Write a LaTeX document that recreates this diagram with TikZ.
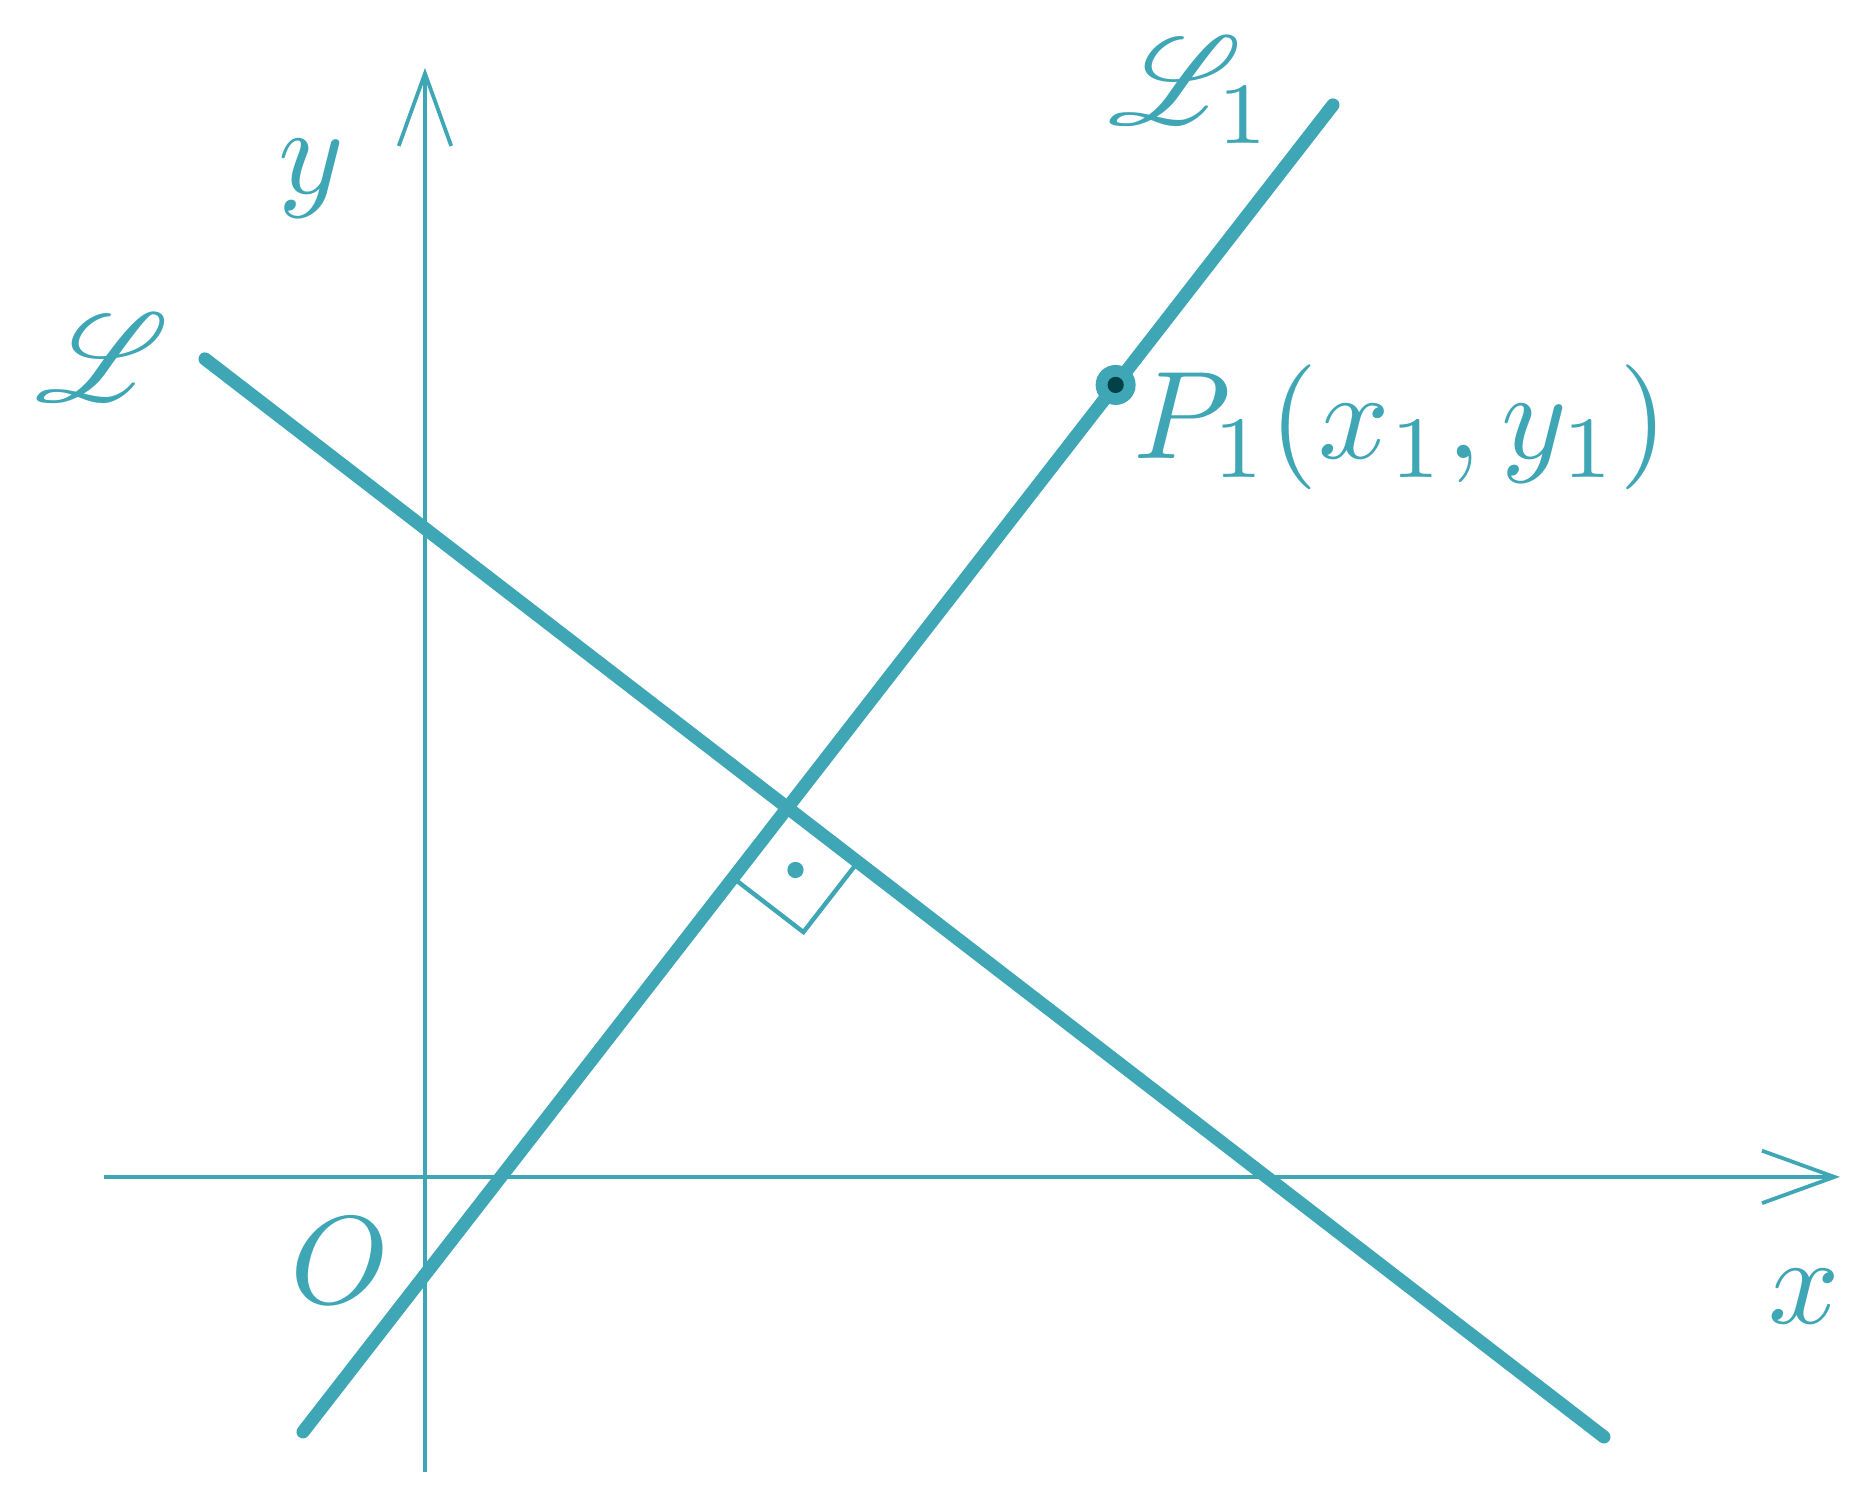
\documentclass[tikz,border=0pt]{standalone}
\usepackage{mathrsfs}
\usetikzlibrary{arrows.meta,calc}

\definecolor{tealline}{RGB}{62,166,181}
\definecolor{tealdark}{RGB}{0,66,72}

\tikzset{every picture/.style={line width=0.75pt}}
\tikzset{
  axisline/.style={draw=tealline, line width=0.3pt, -{Straight Barb[length=5.8pt,width=4.2pt]}},
  thickline/.style={draw=tealline, line width=1.05pt, line cap=round},
  anglemark/.style={draw=tealline, line width=0.35pt, line join=miter},
  lbl/.style={text=tealline, inner sep=0pt},
}

\begin{document}
\begin{tikzpicture}[x=0.08pt,y=0.08pt,yscale=-1,xscale=1]
\useasboundingbox (0,0) rectangle (1867,1501);

% axes
\draw  [axisline]  (104,1177) -- (1840,1177) ;
\draw  [axisline]  (425,1472) -- (425,68) ;

% the line L and its perpendicular L1
\coordinate (Ltop) at (205,359);
\coordinate (Lbot) at (1604,1437);
\coordinate (Mtop) at (1333,105);
\coordinate (Mbot) at (303,1432);
\draw  [thickline]  (Ltop) -- (Lbot) ;
\draw  [thickline]  (Mtop) -- (Mbot) ;

% right angle mark
\coordinate (foot) at (intersection of Ltop--Lbot and Mtop--Mbot);
\coordinate (ra1) at ($(foot)!7.1pt!(Mbot)$);
\coordinate (ra2) at ($(foot)!7.1pt!(Lbot)$);
\coordinate (racorner) at ($(ra1)+(ra2)-(foot)$);
\draw  [anglemark]  (ra1) -- (racorner) -- (ra2) ;
\fill  [tealline]  ($(foot)!0.5!(racorner)$) circle (0.65pt) ;

% point P1
\coordinate (P1) at ($(Mtop)!0.211!(Mbot)$);
\fill  [tealline]  (P1) circle (1.6pt) ;
\fill  [tealdark]  (P1) circle (0.65pt) ;

\draw (311,194) node (ylbl) [lbl, anchor=base]    {$y$};
\draw (340,1304) node (olbl) [lbl, anchor=base]    {$O$};
\draw (1804,1324) node (xlbl) [lbl, anchor=base]    {$x$};
\draw (102,358) node (llbl) [lbl]    {$\mathscr{L}$};
\draw (1104,125) node (lonelbl) [lbl, anchor=base west]    {$\mathscr{L}_1$};
\draw (1129,459) node (plbl) [lbl, anchor=base west]    {$P_1(x_1,y_1)$};

\end{tikzpicture}
\end{document}
